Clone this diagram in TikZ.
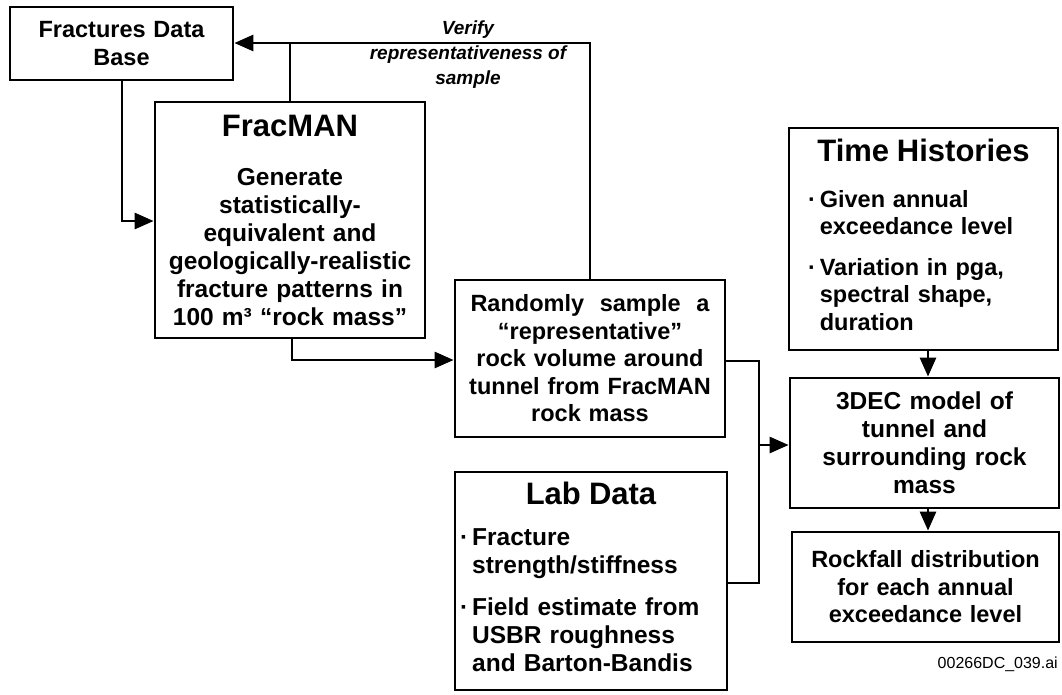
\documentclass[tikz,border=0pt]{standalone}
\usepackage{fontspec}
\setmainfont{Liberation Sans}
\usetikzlibrary{arrows.meta}
\setlength{\parindent}{0pt}
\newcommand\bodyf{\bfseries\fontsize{23.5}{27.5}\selectfont}
\newcommand\bigbodyf{\bfseries\fontsize{24.5}{28}\selectfont}
\newcommand\titlef{\bfseries\fontsize{31}{35}\selectfont}
\tikzset{
  box/.style={draw, line width=2.8pt, inner sep=0pt, align=center, font=\bodyf},
  conn/.style={line width=2.8pt},
  arr/.style={line width=2.8pt, -{Triangle[length=19pt,width=16pt]}},
}
\begin{document}
\begin{tikzpicture}[x=1pt,y=-1pt]
\useasboundingbox (0,0) rectangle (1062,694);
% boxes
\node[box, text width=215pt, minimum width=223pt, minimum height=73pt] (fdb) at (121.5,43.5)
  {Fractures Data\\Base};
\node[box, font=\bigbodyf, text width=262pt, minimum width=270pt, minimum height=236pt] (frac) at (290,220)
  {{\titlef FracMAN\par}\vspace{21pt}Generate\\statistically-\\equivalent and\\geologically-realistic\\fracture patterns in\\100 m³ “rock mass”};
\node[box, text width=262pt, minimum width=270pt, minimum height=157pt] (rand) at (590,358.5)
  {Randomly\ \ sample\ \ a\\“representative”\\rock volume around\\tunnel from FracMAN\\rock mass};
\node[box, font=\bigbodyf, text width=262pt, align=left, minimum width=272pt, minimum height=218pt] (lab) at (591,581)
  {{\centering\titlef Lab Data\par}\vspace{13pt}%
   \begin{tabular}[t]{@{}l@{\hspace{4pt}}l@{}}·&Fracture\\&strength/stiffness\\[14pt]·&Field estimate from\\&USBR roughness\\&and Barton-Bandis\end{tabular}};
\node[box, text width=250pt, align=left, minimum width=269pt, minimum height=222pt] (th) at (923.5,239)
  {{\centering\titlef Time Histories\par}\vspace{18pt}%
   \hspace*{9.5pt}\begin{tabular}[t]{@{}l@{\hspace{4pt}}l@{}}·&Given annual\\&exceedance level\\[13pt]·&Variation in pga,\\&spectral shape,\\&duration\end{tabular}};
\node[box, font=\bigbodyf, text width=260pt, minimum width=269pt, minimum height=130pt] (dec) at (924.5,443)
  {3DEC model of\\tunnel and\\surrounding rock\\mass};
\node[box, text width=260pt, minimum width=267pt, minimum height=110pt] (rock) at (925.5,587)
  {Rockfall distribution\\for each annual\\exceedance level};
% labels
\node[align=center, inner sep=0pt, font=\bfseries\itshape\fontsize{19}{25}\selectfont] (verify) at (468,55)
  {Verify\\representativeness of\\sample};
\node[anchor=east, inner sep=0pt, font=\fontsize{16}{19}\selectfont] (code) at (1058,664) {00266DC\_039.ai};
% helper coordinates
\coordinate (c1) at (122,221);
\coordinate (t1) at (590,43);
\coordinate (t2) at (290,43);
\coordinate (b1) at (292,360);
\coordinate (r1) at (759,361);
\coordinate (l1) at (759,583);
\coordinate (j) at (759,445);
\coordinate (v) at (928,0);
% connectors
\draw[arr] (fdb.south -| c1) |- (frac.west |- c1);
\draw[arr] (rand.north -| t1) |- (fdb.east |- t1);
\draw[conn] (frac.north -| t2) -- (t2);
\draw[arr] (frac.south -| b1) |- (rand.west |- b1);
\draw[conn] (rand.east |- r1) -| (l1) -- (lab.east |- l1);
\draw[arr] (j) -- (dec.west |- j);
\draw[arr] (th.south -| v) -- (dec.north -| v);
\draw[arr] (dec.south -| v) -- (rock.north -| v);
\end{tikzpicture}
\end{document}
